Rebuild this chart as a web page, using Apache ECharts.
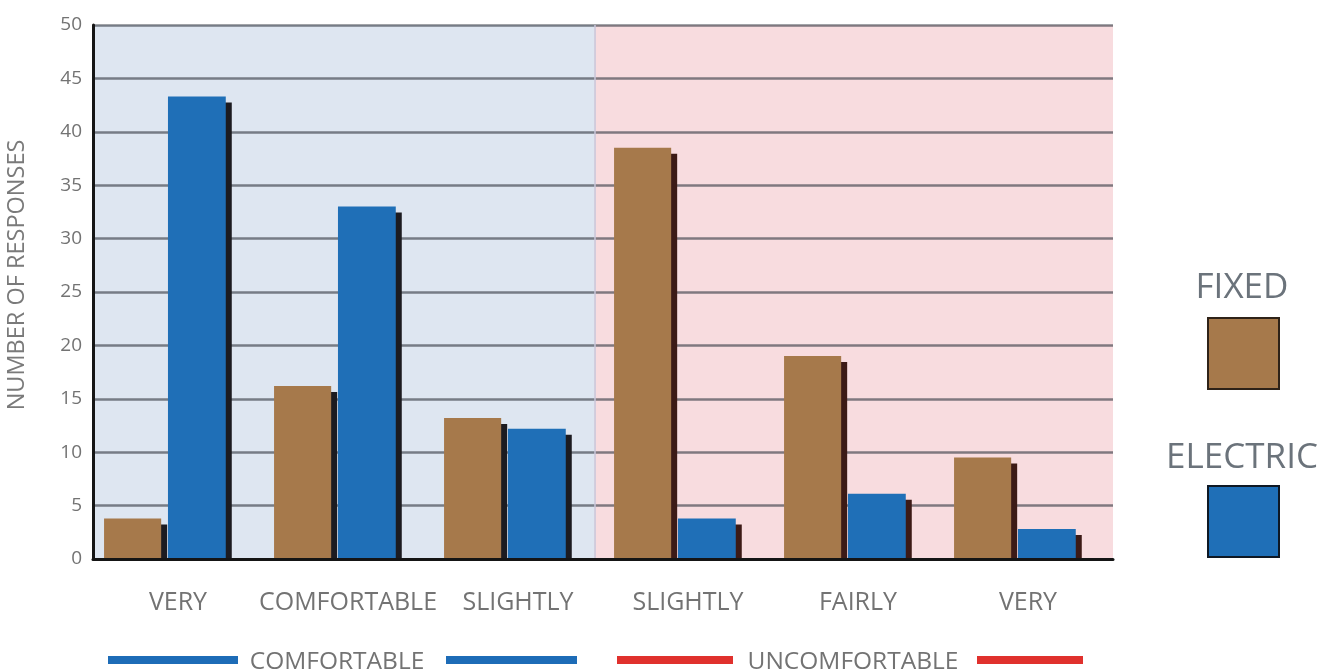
<!DOCTYPE html>
<html>
<head>
<meta charset="utf-8">
<script src="https://cdn.jsdelivr.net/npm/echarts@6/dist/echarts.min.js"></script>
<style>
html,body{margin:0;padding:0;background:#fff;}
#chart{width:1320px;height:671px;}
</style>
</head>
<body>
<div id="chart"></div>
<script>
// ---- data ----
const categories = ['VERY', 'COMFORTABLE', 'SLIGHTLY', 'SLIGHTLY', 'FAIRLY', 'VERY'];
const fixedValues = [3.8, 16.2, 13.2, 38.5, 19.0, 9.5];
const electricValues = [43.3, 33.0, 12.2, 3.8, 6.1, 2.8];
const seriesNames = ['FIXED', 'ELECTRIC'];
const yMin = 0, yMax = 50, yStep = 5;
const groupLabels = ['COMFORTABLE', 'UNCOMFORTABLE'];
const regionSplit = 2.95; // comfortable | uncomfortable boundary (in category units)

// ---- styles ----
const FIXED_COLOR = '#a6794b';
const ELECTRIC_COLOR = '#1f6fb7';
const SHADOW_COMFORT = '#1c1b20';
const SHADOW_UNCOMFORT = '#3c1a16';
const TEXT_GREY = '#737373';
const FONT = '"Open Sans", "Noto Sans", sans-serif';

function barRenderer(offsetFrac, widthFrac) {
  return function (params, api) {
    const idx = api.value(0);
    const val = api.value(1);
    const top = api.coord([idx, val]);
    const base = api.coord([idx, 0]);
    const bw = api.size([1, 0])[0];
    const w = widthFrac * bw;
    const x0 = top[0] - 0.435 * bw + offsetFrac * bw;
    const h = base[1] - top[1];
    const sh = Math.max(0, h - 6);
    const shadowColor = idx < regionSplit ? SHADOW_COMFORT : SHADOW_UNCOMFORT;
    return {
      type: 'group',
      children: [
        { type: 'rect', shape: { x: x0 + 6, y: top[1] + 6, width: w, height: sh }, style: { fill: shadowColor } },
        { type: 'rect', shape: { x: x0, y: top[1], width: w, height: h }, style: { fill: api.visual('color') } }
      ]
    };
  };
}

const chart = echarts.init(document.getElementById('chart'), null, { renderer: 'canvas' });

const option = {
  animation: false,
  backgroundColor: '#ffffff',
  textStyle: { fontFamily: FONT },
  grid: { left: 93, right: 207, top: 25, bottom: 112, containLabel: false, outerBoundsMode: 'none' },
  xAxis: [
    {
      type: 'category',
      data: categories,
      boundaryGap: true,
      z: 6,
      axisLine: { show: true, lineStyle: { color: '#151515', width: 3 } },
      axisTick: { show: false },
      axisLabel: { color: TEXT_GREY, fontSize: 25, margin: 31, fontFamily: FONT, interval: 0 },
      splitLine: { show: false }
    },
    { type: 'value', min: 0, max: categories.length, show: false }
  ],
  yAxis: {
    type: 'value',
    min: yMin, max: yMax, interval: yStep,
    z: 3,
    name: 'NUMBER OF RESPONSES',
    nameLocation: 'middle',
    nameGap: 64,
    nameRotate: 90,
    nameTextStyle: { color: '#7a7a7a', fontSize: 23.5, fontFamily: FONT, padding: [0, 0, 0, 34] },
    axisLine: { show: true, lineStyle: { color: '#151515', width: 3 } },
    axisTick: { show: false },
    axisLabel: { color: TEXT_GREY, fontSize: 19, margin: 11, fontFamily: FONT },
    splitLine: { show: true, lineStyle: { color: 'rgba(55,58,68,0.62)', width: 2.5 } }
  },
  legend: {
    orient: 'vertical',
    left: 1207,
    top: 317,
    itemWidth: 71,
    itemHeight: 71,
    itemGap: 95,
    padding: 0,
    selectedMode: false,
    formatter: function () { return ''; },
    data: [
      { name: 'FIXED', icon: 'rect', itemStyle: { color: FIXED_COLOR, borderColor: '#2e2218', borderWidth: 2 } },
      { name: 'ELECTRIC', icon: 'rect', itemStyle: { color: ELECTRIC_COLOR, borderColor: '#0e1824', borderWidth: 2 } }
    ]
  },
  series: [
    {
      name: 'regions',
      type: 'line',
      xAxisIndex: 1,
      z: 1,
      data: [[0, 0]],
      symbol: 'none',
      lineStyle: { opacity: 0 },
      silent: true,
      markArea: {
        silent: true,
        data: [
          [{ xAxis: 0, itemStyle: { color: '#dee6f1' } }, { xAxis: regionSplit }],
          [{ xAxis: regionSplit, itemStyle: { color: '#f8dcdf' } }, { xAxis: categories.length }]
        ]
      },
      markLine: {
        silent: true,
        symbol: 'none',
        label: { show: false },
        lineStyle: { color: '#c6c6da', width: 1.5, type: 'solid' },
        data: [{ xAxis: regionSplit }]
      }
    },
    {
      name: seriesNames[0],
      type: 'custom',
      z: 4,
      itemStyle: { color: FIXED_COLOR },
      renderItem: barRenderer(0, 0.336),
      encode: { x: 0, y: 1 },
      data: fixedValues.map((v, i) => [i, v])
    },
    {
      name: seriesNames[1],
      type: 'custom',
      z: 4,
      itemStyle: { color: ELECTRIC_COLOR },
      renderItem: barRenderer(0.376, 0.340),
      encode: { x: 0, y: 1 },
      data: electricValues.map((v, i) => [i, v])
    }
  ],
  graphic: [
    { type: 'text', z: 10, style: { text: seriesNames[0], x: 1242, y: 288, fill: '#6b737b', font: '35px ' + FONT, textAlign: 'center', textVerticalAlign: 'middle', align: 'center', verticalAlign: 'middle' } },
    { type: 'text', z: 10, style: { text: seriesNames[1], x: 1242, y: 458, fill: '#6b737b', font: '35px ' + FONT, textAlign: 'center', textVerticalAlign: 'middle', align: 'center', verticalAlign: 'middle' } },
    { type: 'line', z: 10, shape: { x1: 108, y1: 660, x2: 238, y2: 660 }, style: { stroke: '#1d6cb7', lineWidth: 8 } },
    { type: 'line', z: 10, shape: { x1: 446, y1: 660, x2: 577, y2: 660 }, style: { stroke: '#1d6cb7', lineWidth: 8 } },
    { type: 'text', z: 10, style: { text: groupLabels[0], x: 337, y: 662, fill: TEXT_GREY, font: '24.5px ' + FONT, textAlign: 'center', textVerticalAlign: 'middle', align: 'center', verticalAlign: 'middle' } },
    { type: 'line', z: 10, shape: { x1: 617, y1: 660, x2: 733, y2: 660 }, style: { stroke: '#e0312d', lineWidth: 8 } },
    { type: 'line', z: 10, shape: { x1: 977, y1: 660, x2: 1083, y2: 660 }, style: { stroke: '#e0312d', lineWidth: 8 } },
    { type: 'text', z: 10, style: { text: groupLabels[1], x: 853, y: 662, fill: TEXT_GREY, font: '24.5px ' + FONT, textAlign: 'center', textVerticalAlign: 'middle', align: 'center', verticalAlign: 'middle' } }
  ]
};

chart.setOption(option);
</script>
</body>
</html>
